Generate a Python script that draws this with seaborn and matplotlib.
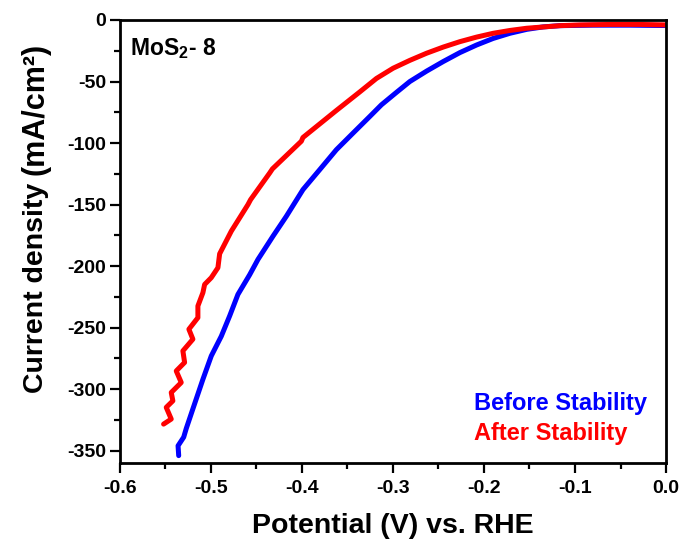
import matplotlib
matplotlib.use("Agg")
import matplotlib.pyplot as plt
import seaborn as sns
from matplotlib.ticker import MultipleLocator

# ---- data ----
blue_potential = [-0.5355, -0.5362, -0.5300, -0.5272, -0.5199, -0.5089, -0.4997, -0.4887,
                  -0.4795, -0.4704, -0.4575, -0.4484, -0.4319, -0.4172, -0.3989, -0.3805,
                  -0.3622, -0.3439, -0.3255, -0.3127, -0.2965, -0.2815, -0.2630, -0.2449,
                  -0.2265, -0.2081, -0.1900, -0.1715, -0.1530, -0.1349, -0.1165, -0.0800,
                  -0.0400, 0.0]
blue_current = [-354, -346, -339, -332, -316, -292, -273, -257,
                -240.5, -223, -207, -194.6, -175.7, -159.5, -137.8, -121.6,
                -105.4, -91.9, -78.4, -68.9, -59.0, -50.0, -41.5, -33.8,
                -26.5, -20.3, -15.0, -10.8, -7.6, -5.6, -4.6, -4.2,
                -4.2, -4.5]

red_potential = [-0.5521, -0.5437, -0.5492, -0.5419, -0.5437, -0.5327, -0.5382, -0.5290,
                 -0.5309, -0.5199, -0.5243, -0.5144, -0.5144, -0.5089, -0.5070, -0.4997,
                 -0.4924, -0.4905, -0.4777, -0.4594, -0.4565, -0.4355, -0.4325, -0.4007,
                 -0.3990, -0.3622, -0.3366, -0.3182, -0.2999, -0.2815, -0.2631, -0.2448,
                 -0.2265, -0.2082, -0.1899, -0.1715, -0.1531, -0.1165, -0.0945, -0.0600,
                 -0.0300, 0.0]
red_current = [-328.4, -324.3, -314.8, -309.5, -302.7, -294.6, -285.2, -278.3,
               -268.9, -259.4, -251.3, -241.9, -232.4, -221.6, -214.9, -209.4,
               -201.3, -190.0, -171.6, -150.0, -146.0, -124.3, -121.0, -98.5,
               -95.5, -73.5, -58.5, -47.5, -39.2, -32.8, -27.0, -22.0,
               -17.6, -13.9, -10.8, -8.5, -6.7, -4.6, -4.0, -3.6,
               -3.6, -4.0]

series_labels = ["Before Stability", "After Stability"]
sample_label = "MoS$_\\mathbf{2}$- 8"
x_label = "Potential (V) vs. RHE"
y_label_main = "Current density "
y_label_unit = "(mA/cm²)"
x_ticks = [-0.6, -0.5, -0.4, -0.3, -0.2, -0.1, 0.0]
x_tick_labels = ["-0.6", "-0.5", "-0.4", "-0.3", "-0.2", "-0.1", "0.0"]
y_ticks = [0, -50, -100, -150, -200, -250, -300, -350]
y_tick_labels = ["0", "-50", "-100", "-150", "-200", "-250", "-300", "-350"]

# ---- style ----
sns.set_style("white")
plt.rcParams["font.family"] = ["Liberation Sans", "DejaVu Sans"]
plt.rcParams["font.weight"] = "bold"
plt.rcParams["mathtext.fontset"] = "custom"
plt.rcParams["mathtext.bf"] = "Liberation Sans:bold"
plt.rcParams["mathtext.rm"] = "Liberation Sans:bold"
plt.rcParams["mathtext.default"] = "bf"
plt.rcParams["text.color"] = "black"
plt.rcParams["axes.labelcolor"] = "black"

fig = plt.figure(figsize=(6.81, 5.40), dpi=100)
ax = fig.add_axes([120 / 681, 1 - 463 / 540, 546 / 681, 443 / 540])

sns.lineplot(x=blue_potential, y=blue_current, sort=False, estimator=None,
             color="#0000ff", linewidth=3.6, ax=ax)
sns.lineplot(x=red_potential, y=red_current, sort=False, estimator=None,
             color="#ff0000", linewidth=3.6, ax=ax)

ax.set_xlim(-0.6, 0.0)
ax.set_ylim(-360, 0)
ax.set_xticks(x_ticks)
ax.set_xticklabels(x_tick_labels)
ax.set_yticks(y_ticks)
ax.set_yticklabels(y_tick_labels)
ax.xaxis.set_minor_locator(MultipleLocator(0.05))
ax.yaxis.set_minor_locator(MultipleLocator(25))

for side in ["left", "bottom", "right", "top"]:
    ax.spines[side].set_visible(True)
    ax.spines[side].set_linewidth(2.0)
    ax.spines[side].set_color("black")

ax.tick_params(axis="both", which="both", bottom=True, left=True, top=False, right=False)
ax.tick_params(axis="both", which="major", direction="out", length=7, width=1.6,
               labelsize=14, color="black", labelcolor="black")
ax.tick_params(axis="both", which="minor", direction="out", length=4, width=1.6,
               color="black")
ax.tick_params(axis="x", which="major", pad=5)
ax.tick_params(axis="y", which="major", pad=3)
for lab in ax.get_xticklabels() + ax.get_yticklabels():
    lab.set_fontweight("bold")

ax.set_xlabel(x_label, fontsize=20.5, fontweight="bold", labelpad=12, color="black")

# y label drawn in two pieces (units slightly larger, as in the reference)
t1 = fig.text(36 / 681, 1 - 393 / 540, y_label_main, rotation=90, ha="center",
              va="bottom", fontsize=20.5, fontweight="bold", color="black")
fig.canvas.draw()
bb = t1.get_window_extent()
top_fig = bb.y1 / fig.bbox.height
fig.text(36 / 681, top_fig, y_label_unit, rotation=90, ha="center", va="bottom",
         fontsize=22, fontweight="bold", color="black")

ax.text(0.018, 0.935, sample_label, transform=ax.transAxes, fontsize=16.5,
        fontweight="bold", ha="left", va="center", color="black")
ax.text(0.648, 0.135, series_labels[0], transform=ax.transAxes, fontsize=17,
        fontweight="bold", ha="left", va="center", color="#0000ff")
ax.text(0.648, 0.067, series_labels[1], transform=ax.transAxes, fontsize=17,
        fontweight="bold", ha="left", va="center", color="#ff0000")

fig.savefig("out.png", dpi=100)
